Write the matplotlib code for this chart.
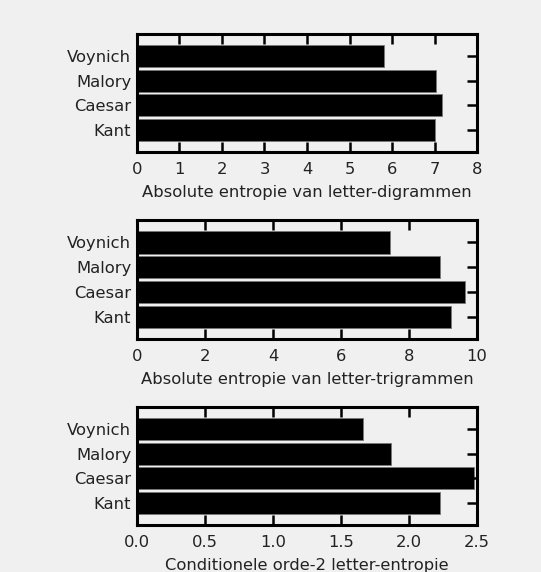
import matplotlib.pyplot as plt
import numpy as np

teksten = ["Kant", "Caesar", "Malory", "Voynich"]
digram = [7.00, 7.17, 7.03, 5.80]
trigram = [9.23, 9.64, 8.90, 7.45]
cond2 = [2.23, 2.48, 1.87, 1.66]

labels = ["Absolute entropie van letter-digrammen",
          "Absolute entropie van letter-trigrammen",
          "Conditionele orde-2 letter-entropie"]
xlims = [8, 10, 2.5]
xticks = [np.arange(0, 9, 1), np.arange(0, 11, 2), np.arange(0, 2.6, 0.5)]

bg = "#f0f0f0"
plt.rcParams['font.family'] = ['DejaVu Sans']

fig = plt.figure(figsize=(5.41, 5.72), dpi=100, facecolor=bg)
boxes = [(0.734, 0.9406), (0.4073, 0.615), (0.0822, 0.2885)]

for i, vals in enumerate([digram, trigram, cond2]):
    b, t = boxes[i]
    ax = fig.add_axes([0.253, b, 0.629, t - b])
    ax.set_facecolor(bg)
    y = np.arange(len(teksten))
    ax.barh(y, vals, height=0.9, color="black", edgecolor="#777777", linewidth=0.6)
    ax.set_xlim(0, xlims[i])
    ax.set_ylim(-0.9, 3.9)
    ax.set_yticks(y)
    ax.set_yticklabels(teksten, fontsize=11.8, color="#222222")
    ax.set_xticks(xticks[i])
    if i == 2:
        ax.set_xticklabels(["%.1f" % v for v in xticks[i]])
    ax.tick_params(axis="x", direction="in", top=True, length=7, width=1.8,
                   labelsize=11.8, labelcolor="#222222", pad=7)
    ax.tick_params(axis="y", direction="in", left=False, right=True, length=7,
                   width=1.8, pad=4)
    for s in ax.spines.values():
        s.set_linewidth(2.2)
    ax.set_xlabel(labels[i], fontsize=11.8, color="#222222", labelpad=6)

fig.savefig("out.png", dpi=100, facecolor=bg)
